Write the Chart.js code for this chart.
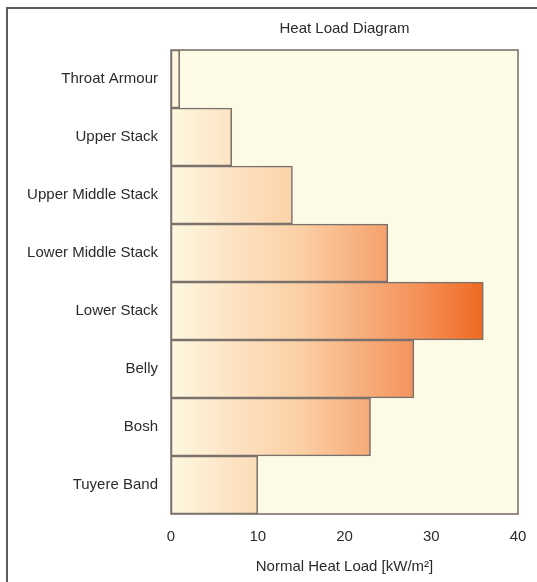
<!DOCTYPE html>
<html>
<head>
<meta charset="utf-8">
<script src="https://cdn.jsdelivr.net/npm/chart.js@4"></script>
<style>
  html, body { margin: 0; padding: 0; background: #ffffff; }
  #wrap { position: relative; width: 537px; height: 582px; }
  #frame { position: absolute; left: 6px; top: 7px; right: 0; bottom: 0;
           border-top: 2px solid #5c5c5c; border-left: 2px solid #5c5c5c; pointer-events: none; }
</style>
</head>
<body>
<div id="wrap">
  <canvas id="c" width="537" height="582"></canvas>
  <div id="frame"></div>
</div>
<script>
const chartTitle = "Heat Load Diagram";
const axisTitle = "Normal Heat Load [kW/m²]";
const categories = ["Throat Armour", "Upper Stack", "Upper Middle Stack", "Lower Middle Stack",
                    "Lower Stack", "Belly", "Bosh", "Tuyere Band"];
const heatLoad = [1, 7, 14, 25, 36, 28, 23, 10];
const xMin = 0, xMax = 40, xStep = 10;

const FONT = "'Liberation Sans', Arial, sans-serif";
const TEXT = "#2b2b2b";

const plotFrame = {
  id: 'plotFrame',
  beforeDatasetsDraw(chart) {
    const { ctx, chartArea: a } = chart;
    ctx.save();
    ctx.fillStyle = "#fdfbe6";
    ctx.fillRect(a.left, a.top, a.right - a.left, a.bottom - a.top);
    ctx.restore();
  },
  afterDatasetsDraw(chart) {
    const { ctx, chartArea: a } = chart;
    ctx.save();
    ctx.strokeStyle = "#7a726c";
    ctx.lineWidth = 1.6;
    ctx.strokeRect(a.left, a.top, a.right - a.left, a.bottom - a.top);
    ctx.restore();
  }
};

function barGradient(context) {
  const chart = context.chart;
  const { ctx, chartArea, scales } = chart;
  if (!chartArea) return "#f5b080";
  const x0 = scales.x.getPixelForValue(0);
  const x1 = scales.x.getPixelForValue(36);
  const g = ctx.createLinearGradient(x0, 0, x1, 0);
  g.addColorStop(0.00, "#fdf8e0");
  g.addColorStop(0.20, "#fde3c3");
  g.addColorStop(0.42, "#fbcfa4");
  g.addColorStop(0.58, "#f8b383");
  g.addColorStop(0.80, "#f49058");
  g.addColorStop(1.00, "#ee6a20");
  return g;
}

new Chart(document.getElementById('c'), {
  type: 'bar',
  data: {
    labels: categories,
    datasets: [{
      data: heatLoad,
      backgroundColor: barGradient,
      borderColor: "#7a726c",
      borderWidth: 1.6,
      borderSkipped: false,
      barPercentage: 1.0,
      categoryPercentage: 1.0
    }]
  },
  options: {
    indexAxis: 'y',
    responsive: false,
    animation: false,
    devicePixelRatio: 1,
    layout: { padding: { left: 0, right: 19, top: 0, bottom: 0 } },
    plugins: {
      legend: { display: false },
      tooltip: { enabled: false },
      title: {
        display: true,
        text: chartTitle,
        fullSize: false,
        color: TEXT,
        font: { family: FONT, size: 15, weight: 'normal' },
        padding: { top: 20, bottom: 12 }
      }
    },
    scales: {
      x: {
        min: xMin, max: xMax,
        grid: { display: false, drawTicks: false },
        border: { display: false },
        ticks: { stepSize: xStep, color: TEXT, padding: 14,
                 font: { family: FONT, size: 15 } },
        title: { display: true, text: axisTitle, color: TEXT,
                 font: { family: FONT, size: 15 }, padding: { top: 10, bottom: 6 } },
        afterFit(scale) { scale.height = 68; scale.paddingRight = 0; scale.paddingLeft = 0; }
      },
      y: {
        grid: { display: false, drawTicks: false },
        border: { display: false },
        ticks: { color: TEXT, padding: 13, font: { family: FONT, size: 15 } },
        afterFit(scale) { scale.width = 171; }
      }
    }
  },
  plugins: [plotFrame]
});
</script>
</body>
</html>
